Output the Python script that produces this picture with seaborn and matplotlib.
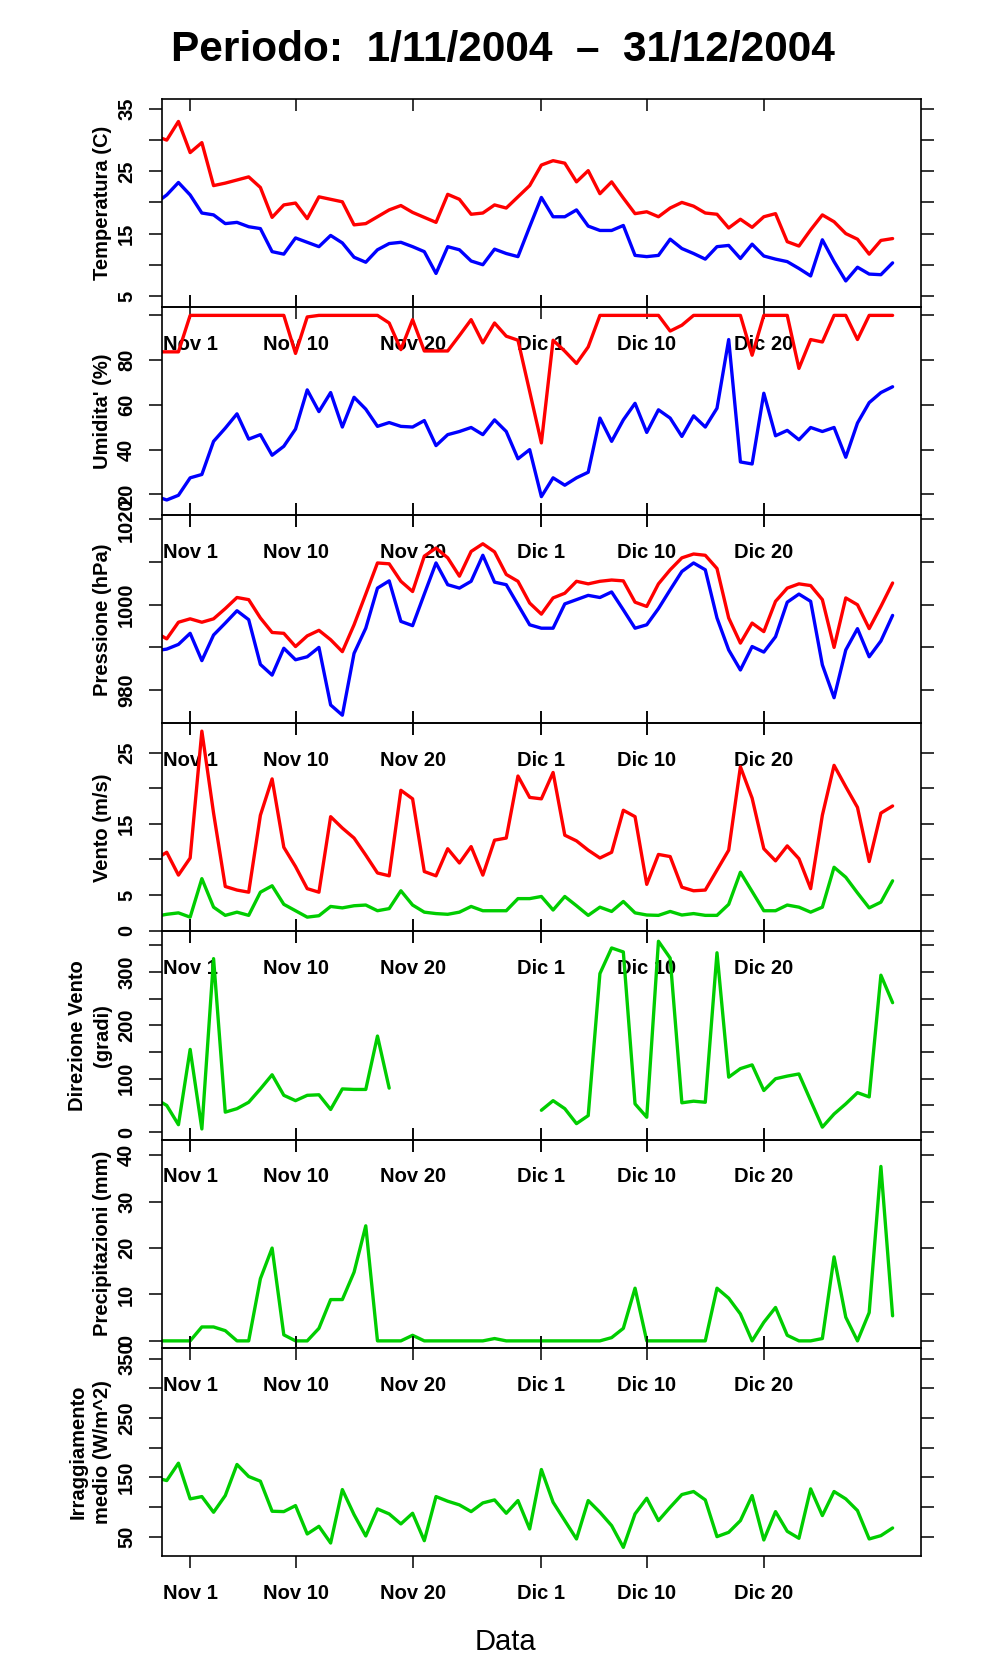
import numpy as np
import pandas as pd
import matplotlib
matplotlib.use("Agg")
import matplotlib.pyplot as plt
import seaborn as sns

# ---------------- data (one value per day, 29 Oct 2004 .. 31 Dec 2004) ----------------
dates = pd.date_range("2004-10-29", "2004-12-31", freq="D")

temp_max = [30.7, 30.0, 33.0, 28.0, 29.6, 22.7, 23.1, 23.6, 24.1, 22.4, 17.6, 19.6, 19.9, 17.4,
            20.9, 20.5, 20.1, 16.4, 16.6, 17.7, 18.8, 19.5, 18.4, 17.6, 16.8, 21.3, 20.5, 18.1,
            18.3, 19.6, 19.1, 20.9, 22.7, 26.0, 26.7, 26.3, 23.3, 25.1, 21.4, 23.3, 20.7, 18.2,
            18.5, 17.7, 19.1, 20.0, 19.4, 18.3, 18.1, 15.9, 17.3, 16.0, 17.7, 18.2, 13.7, 13.0,
            15.6, 18.0, 16.9, 15.0, 14.1, 11.7, 13.9, 14.2]
temp_min = [19.8, 21.2, 23.2, 21.2, 18.3, 18.0, 16.6, 16.8, 16.1, 15.8, 12.1, 11.7, 14.3, 13.6,
            12.9, 14.7, 13.5, 11.2, 10.4, 12.4, 13.4, 13.6, 12.9, 12.1, 8.6, 12.9, 12.4, 10.6,
            10.0, 12.5, 11.8, 11.3, 16.1, 20.8, 17.7, 17.7, 18.8, 16.2, 15.5, 15.5, 16.3, 11.5,
            11.3, 11.5, 14.1, 12.6, 11.8, 10.9, 12.9, 13.1, 11.0, 13.3, 11.4, 10.9, 10.5, 9.4,
            8.2, 14.0, 10.5, 7.4, 9.6, 8.5, 8.4, 10.3]

hum_max = [83.7, 83.7, 83.7, 100, 100, 100, 100, 100, 100, 100, 100, 100, 83.0, 99.3,
           100, 100, 100, 100, 100, 100, 96.6, 84.7, 98.1, 84.1, 84.1, 84.1, 91.0, 98.1,
           87.7, 96.6, 90.7, 88.9, 66.0, 43.0, 88.9, 84.0, 78.5, 85.9, 100, 100, 100, 100,
           100, 100, 93.0, 95.6, 100, 100, 100, 100, 100, 82.2, 100, 100, 100, 76.3,
           89.2, 88.1, 100, 100, 89.2, 100, 100, 100]
hum_min = [19.3, 17.5, 19.6, 27.4, 28.9, 43.7, 49.6, 56.0, 44.7, 46.7, 37.5, 41.5, 49.2, 66.7,
           57.0, 65.5, 50.1, 63.4, 58.1, 50.4, 52.1, 50.4, 50.1, 53.0, 41.8, 46.7, 48.1, 49.9,
           46.7, 53.3, 48.1, 35.9, 40.0, 19.0, 27.4, 24.1, 27.4, 29.9, 54.1, 43.7, 53.3, 60.7,
           47.7, 57.8, 54.1, 45.9, 55.1, 50.1, 58.5, 89.2, 34.5, 33.6, 65.2, 46.2, 48.6, 44.4,
           49.9, 48.1, 49.9, 36.6, 51.9, 61.0, 65.5, 68.1]

pres_max = [993.6, 992.0, 995.9, 996.7, 995.9, 996.7, 999.1, 1001.7, 1001.2, 996.9, 993.5, 993.3,
            990.2, 992.7, 994.0, 991.8, 989.0, 995.3, 1002.5, 1009.8, 1009.6, 1005.5, 1003.1,
            1011.4, 1013.3, 1011.0, 1006.7, 1012.5, 1014.3, 1012.4, 1007.1, 1005.5, 1000.4, 997.8,
            1001.6, 1002.7, 1005.5, 1004.9, 1005.5, 1005.8, 1005.6, 1000.6, 999.6, 1004.9, 1008.2,
            1011.0, 1011.9, 1011.6, 1008.5, 996.9, 991.0, 995.7, 993.7, 1000.8, 1003.9, 1004.9,
            1004.5, 1001.2, 990.0, 1001.6, 1000.0, 994.4, 999.6, 1005.1]
pres_min = [989.2, 989.6, 990.7, 993.3, 986.9, 992.9, 995.7, 998.6, 996.5, 986.0, 983.5, 989.8,
            987.1, 987.8, 990.0, 976.5, 974.1, 988.6, 994.5, 1003.9, 1005.6, 996.1, 995.1,
            1002.5, 1009.8, 1004.7, 1003.9, 1005.5, 1011.6, 1005.3, 1004.7, 1000.0, 995.3, 994.5,
            994.5, 1000.2, 1001.2, 1002.2, 1001.7, 1003.0, 998.8, 994.5, 995.3, 999.1, 1003.5,
            1007.8, 1009.8, 1008.2, 996.9, 989.4, 984.7, 990.2, 988.9, 992.5, 1000.6, 1002.5,
            1000.8, 985.9, 978.2, 989.4, 994.4, 987.8, 991.5, 997.5]

wind_max = [10.0, 11.0, 7.8, 10.2, 28.0, 16.5, 6.2, 5.7, 5.4, 16.2, 21.3, 11.7, 9.0, 5.9,
            5.4, 16.0, 14.4, 13.0, 10.6, 8.1, 7.7, 19.7, 18.5, 8.3, 7.7, 11.5, 9.5, 11.8,
            7.8, 12.7, 13.0, 21.7, 18.7, 18.5, 22.2, 13.4, 12.6, 11.3, 10.2, 11.0, 16.9, 16.0,
            6.5, 10.7, 10.4, 6.1, 5.6, 5.7, 8.5, 11.3, 23.0, 18.6, 11.5, 9.8, 11.9, 10.1,
            5.9, 16.2, 23.2, 20.2, 17.3, 9.7, 16.5, 17.5]
wind_mean = [2.0, 2.3, 2.5, 1.9, 7.3, 3.3, 2.15, 2.6, 2.15, 5.4, 6.3, 3.7, 2.8, 1.9,
             2.1, 3.4, 3.2, 3.5, 3.6, 2.8, 3.1, 5.6, 3.6, 2.6, 2.4, 2.3, 2.6, 3.4,
             2.8, 2.8, 2.8, 4.5, 4.5, 4.8, 2.9, 4.8, 3.5, 2.15, 3.3, 2.7, 4.1, 2.5,
             2.2, 2.15, 2.7, 2.2, 2.4, 2.15, 2.15, 3.7, 8.2, 5.5, 2.8, 2.8, 3.6, 3.3,
             2.6, 3.3, 8.9, 7.5, 5.3, 3.2, 4.0, 7.0]

wind_dir = [63, 50, 14, 155, 6, 325, 37.5, 44, 56, 81, 107.5, 69, 59, 69,
            70, 42.5, 81, 80, 80, 180, 82.5, np.nan, np.nan, np.nan, np.nan, np.nan, np.nan, np.nan,
            np.nan, np.nan, np.nan, np.nan, np.nan, 41, 59, 44, 16, 31, 297, 345, 337.5, 53,
            28, 357.5, 326, 55, 58, 56, 336, 103, 119, 126, 78, 100, 105, 109,
            59, 9.4, 34, 53, 74, 66, 294, 242.5]

precip = [0, 0, 0, 0, 3.0, 3.0, 2.2, 0, 0, 13.4, 20.0, 1.3, 0, 0,
          2.7, 8.9, 8.9, 14.8, 24.8, 0, 0, 0, 1.2, 0, 0, 0, 0, 0,
          0, 0.5, 0, 0, 0, 0, 0, 0, 0, 0, 0, 0.7, 2.7, 11.35,
          0, 0, 0, 0, 0, 0, 11.35, 9.2, 5.8, 0, 4.0, 7.2, 1.2, 0,
          0, 0.5, 18.1, 5.1, 0, 6.1, 37.6, 5.4]

irrad = [149.6, 144.5, 173.8, 113.6, 117.5, 91.1, 119.2, 171.6, 151.3, 143.4, 92.8, 92.2, 102.3, 54.5,
         67.4, 39.3, 129.3, 87.1, 51.1, 96.7, 88.3, 71.4, 89.4, 43.2, 117.5, 109.7, 103.5, 92.2,
         106.8, 111.9, 89.4, 110.8, 62.9, 163.1, 108.0, 77.0, 46.1, 110.8, 91.1, 68.6, 32.0, 88.3,
         114.7, 77.0, 99.5, 120.9, 126.0, 111.9, 50.0, 57.3, 77.0, 119.2, 44.4, 92.2, 59.0, 47.2,
         130.5, 85.5, 126.0, 113.6, 93.9, 46.1, 51.7, 64.6]

xtick_dates = pd.to_datetime(["2004-11-01", "2004-11-10", "2004-11-20",
                              "2004-12-01", "2004-12-10", "2004-12-20"])
xtick_labels = ["Nov 1", "Nov 10", "Nov 20", "Dic 1", "Dic 10", "Dic 20"]

RED, BLUE, GREEN = "#FF0000", "#0000FF", "#00CD00"

panels = [
    dict(ylabel="Temperatura (C)", series=[(temp_max, RED), (temp_min, BLUE)],
         ylim=(3.2, 36.6), ticks=[5, 10, 15, 20, 25, 30, 35], shown=[5, 15, 25, 35]),
    dict(ylabel="Umidita' (%)", series=[(hum_max, RED), (hum_min, BLUE)],
         ylim=(10.7, 103.7), ticks=[20, 40, 60, 80, 100], shown=[20, 40, 60, 80]),
    dict(ylabel="Pressione (hPa)", series=[(pres_max, RED), (pres_min, BLUE)],
         ylim=(972.2, 1021.0), ticks=[980, 990, 1000, 1010, 1020], shown=[980, 1000, 1020]),
    dict(ylabel="Vento (m/s)", series=[(wind_max, RED), (wind_mean, GREEN)],
         ylim=(-0.1, 29.1), ticks=[0, 5, 10, 15, 20, 25], shown=[0, 5, 15, 25]),
    dict(ylabel="Direzione Vento\n(gradi)", series=[(wind_dir, GREEN)],
         ylim=(-13.75, 376), ticks=[0, 50, 100, 150, 200, 250, 300, 350], shown=[0, 100, 200, 300]),
    dict(ylabel="Precipitazioni (mm)", series=[(precip, GREEN)],
         ylim=(-1.45, 43.4), ticks=[0, 10, 20, 30, 40], shown=[0, 10, 20, 30, 40]),
    dict(ylabel="Irraggiamento\nmedio (W/m^2)", series=[(irrad, GREEN)],
         ylim=(17.9, 368.5), ticks=[50, 100, 150, 200, 250, 300, 350], shown=[50, 150, 250, 350]),
]

# ---------------- figure ----------------
sns.set_theme(style="white")
plt.rcParams["font.family"] = ["Liberation Sans", "DejaVu Sans"]

FW, FH = 996, 1680
fig = plt.figure(figsize=(FW / 100, FH / 100), dpi=100)
fig.patch.set_facecolor("white")

left_px, right_px = 161.7, 920.7
top_px, panel_h = 99.0, 208.1
PT = 0.72  # points per pixel at dpi 100

xmin = pd.Timestamp("2004-11-01") - pd.Timedelta(days=2.43)
xmax = pd.Timestamp("2004-12-31") + pd.Timedelta(days=2.4)

n = len(panels)
for i, p in enumerate(panels):
    y0 = top_px + (i + 1) * panel_h
    ax = fig.add_axes([left_px / FW, 1 - y0 / FH, (right_px - left_px) / FW, panel_h / FH])
    ax.set_facecolor("none")
    for vals, col in p["series"]:
        df = pd.DataFrame({"date": dates, "value": vals})
        df["seg"] = df["value"].isna().cumsum()
        df = df.dropna()
        sns.lineplot(data=df, x="date", y="value", units="seg", estimator=None,
                     color=col, linewidth=2.4, ax=ax)
    ax.set_xlim(xmin, xmax)
    ax.set_ylim(*p["ylim"])
    ax.set_xlabel("")

    # y axis
    ax.set_yticks(p["ticks"])
    ax.set_yticklabels([str(t) if t in p["shown"] else "" for t in p["ticks"]])
    ax.tick_params(axis="y", direction="out", length=13.5 * PT, width=1.1, color="black",
                   left=True, right=True, labelright=False, labelsize=14.5,
                   pad=12 * PT, labelrotation=90)
    for lab in ax.get_yticklabels():
        lab.set_fontweight("bold")
        lab.set_va("center")
        lab.set_color("black")
    ax.set_ylabel(p["ylabel"], fontsize=14.5, fontweight="bold", color="black",
                  va="center", ha="center", linespacing=1.35)
    if "\n" in p["ylabel"]:
        ax.yaxis.set_label_coords((90 - left_px) / (right_px - left_px), 0.5)
    else:
        ax.yaxis.set_label_coords((102.5 - left_px) / (right_px - left_px), 0.5)

    # x axis
    ax.set_xticks(xtick_dates)
    ax.set_xticklabels(xtick_labels)
    if i == 0:
        ax.tick_params(axis="x", direction="in", length=12 * PT, pad=28 * PT)
    elif i == n - 1:
        ax.tick_params(axis="x", direction="out", length=12 * PT, pad=16 * PT)
    else:
        ax.tick_params(axis="x", direction="inout", length=24 * PT, pad=16 * PT)
    ax.tick_params(axis="x", top=True, bottom=True, labelbottom=True, labelsize=14.5,
                   width=1.1, color="black")
    for lab in ax.get_xticklabels():
        lab.set_fontweight("bold")
        lab.set_color("black")

    for sp in ax.spines.values():
        sp.set_visible(True)
        sp.set_color("black")
        sp.set_linewidth(1.2)

fig.text(503 / FW, 1 - 50 / FH, "Periodo:  1/11/2004  \u2013  31/12/2004",
         ha="center", va="center", fontsize=30.5, fontweight="bold", color="black")
fig.text(505 / FW, 1 - 1642 / FH, "Data", ha="center", va="center", fontsize=21, color="black")

fig.savefig("out.png", dpi=100, facecolor="white")
